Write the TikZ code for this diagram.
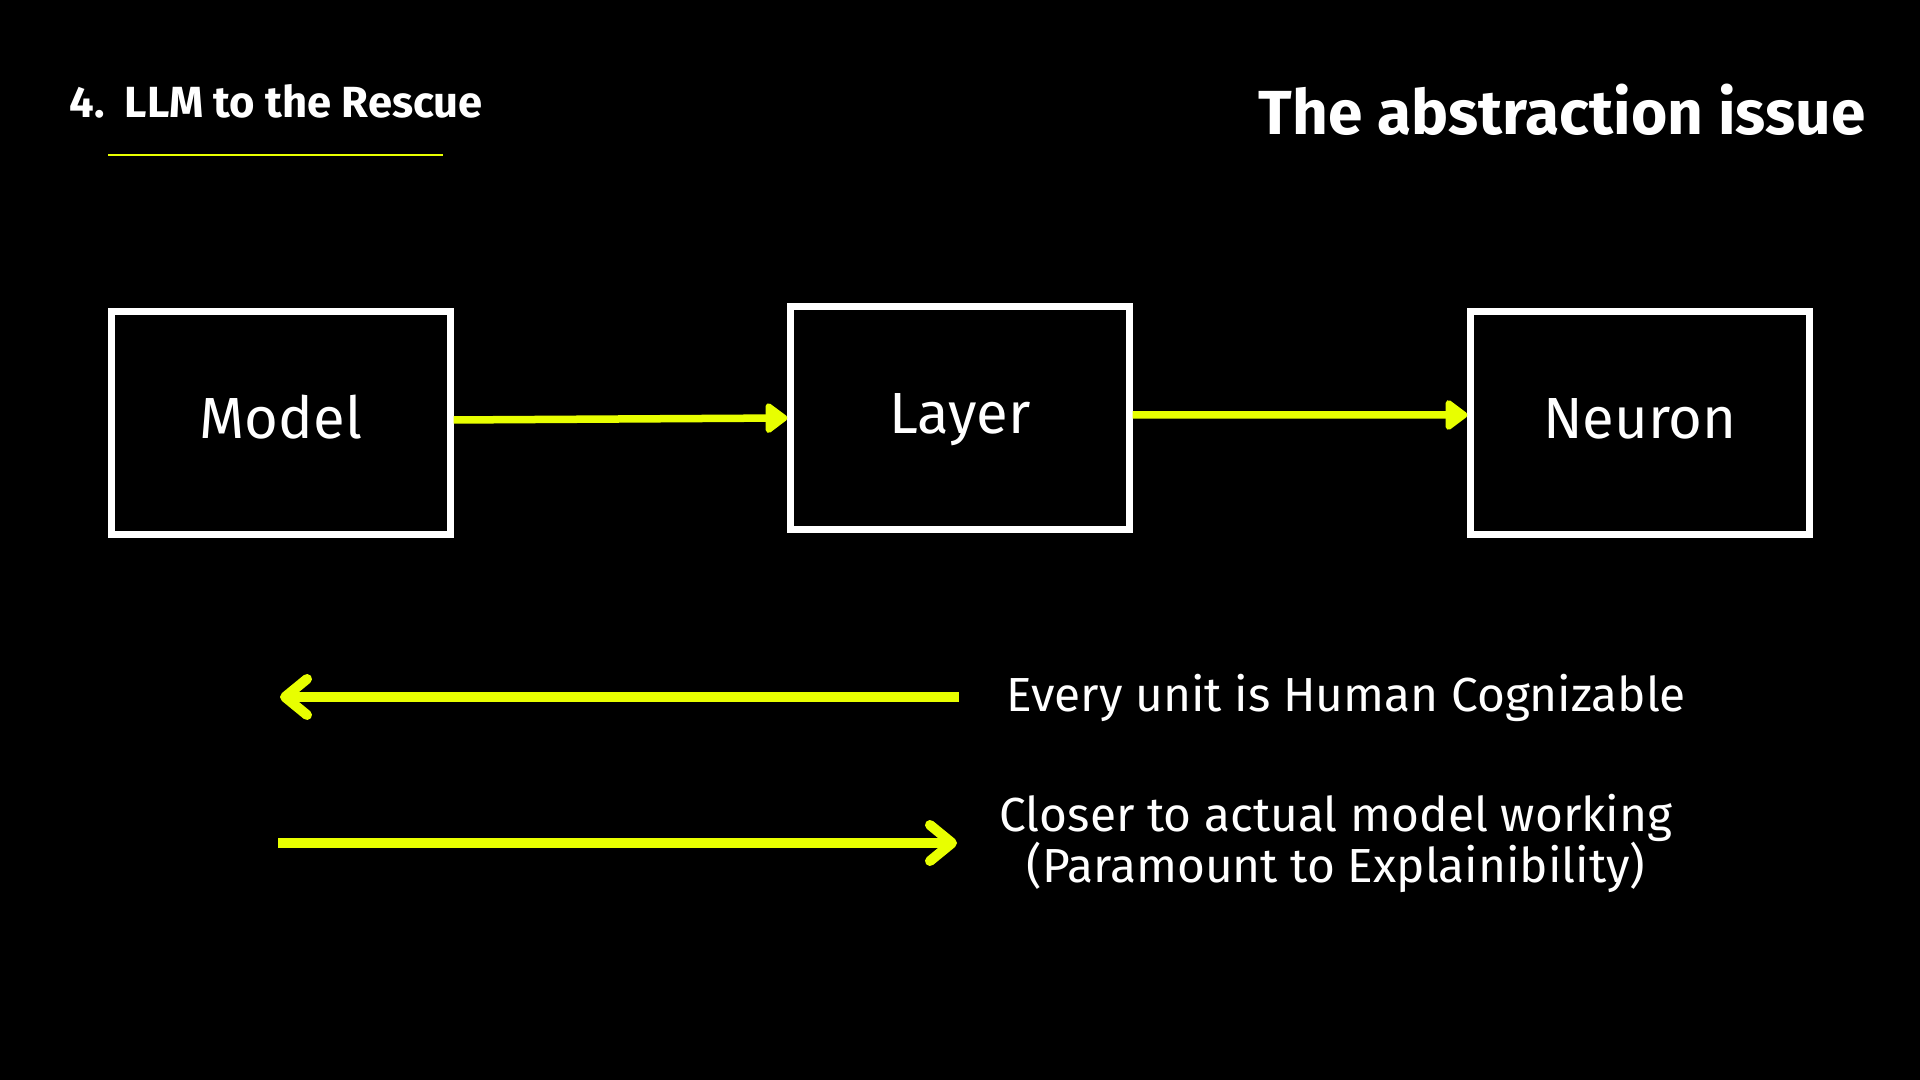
\documentclass[tikz,border=0pt]{standalone}
\usepackage{fontspec}
\setmainfont{Fira Sans}
\usetikzlibrary{arrows.meta,positioning}
\definecolor{hilite}{HTML}{E8FF00}

\begin{document}
\begin{tikzpicture}[x=0.01cm,y=-0.01cm,
  box/.style={draw=white,line width=0.07cm,minimum width=3.38cm,minimum height=2.23cm,text=white,text height=0.42cm,text depth=0.1cm,font=\fontsize{16.5}{20}\selectfont},
  link/.style={hilite,line width=0.075cm,-{Triangle[length=0.24cm,width=0.34cm,round]}},
  span/.style={hilite,line width=0.1cm,-{Straight Barb[length=0.22cm,width=0.36cm,round]}},
  note/.style={text=white,inner sep=0,font=\fontsize{13.6}{14.5}\selectfont}]
\fill[black] (0,0) rectangle (1920,1080);
\useasboundingbox (0,0) rectangle (1920,1080);
\node[anchor=base west,text=white,inner sep=0,font=\bfseries\fontsize{12.4}{15}\selectfont] (section) at (69,118) {4.\hspace{0.2cm}LLM to the Rescue};
\draw[hilite,line width=0.025cm] (108,155) -- (443,155);
\node[anchor=base east,text=white,inner sep=0,font=\bfseries\fontsize{17.7}{21}\selectfont] (title) at (1866,135) {The abstraction issue};
\node[box] (model) at (281,423) {Model};
\node[box] (layer) at (960,418) {Layer};
\node[box] (neuron) at (1640,423) {Neuron};
\draw[link] ([yshift=0.03cm]model.east) -- (layer.west);
\draw[link] ([yshift=0.03cm]layer.east) -- ([yshift=0.08cm]neuron.west);
\coordinate (upto) at (959,697);
\coordinate (upfrom) at (280,697);
\coordinate (downfrom) at (278,843);
\coordinate (downto) at (957,843);
\draw[span] (upto) -- (upfrom);
\draw[span] (downfrom) -- (downto);
\node[note,anchor=base west] (every) at (1006,712) {Every unit is Human Cognizable};
\node[note,align=center] (closer) at (1336,843) {Closer to actual model working\\(Paramount to Explainibility)};
\end{tikzpicture}
\end{document}
